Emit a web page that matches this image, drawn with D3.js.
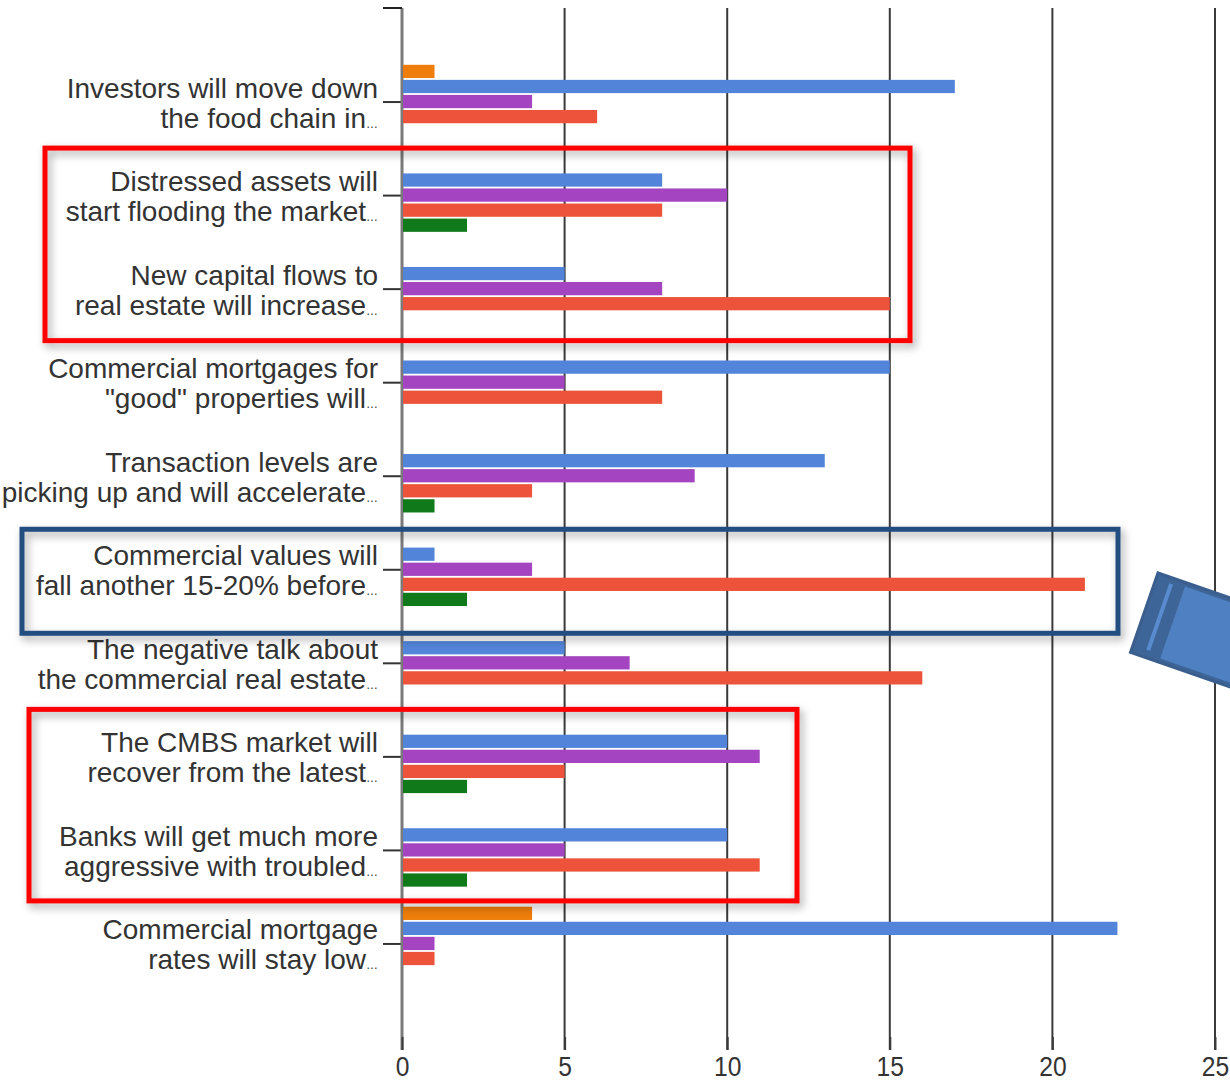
<!DOCTYPE html>
<html><head><meta charset="utf-8">
<script src="https://cdn.jsdelivr.net/npm/d3@7"></script>
<style>body{margin:0;background:#fff} svg{display:block}</style>
</head><body><svg id="c" width="1230" height="1081"></svg>
<script>
// ---- data ----
const categories = [
  "Investors will move down\nthe food chain in",
  "Distressed assets will\nstart flooding the market",
  "New capital flows to\nreal estate will increase",
  "Commercial mortgages for\n\"good\" properties will",
  "Transaction levels are\npicking up and will accelerate",
  "Commercial values will\nfall another 15-20% before",
  "The negative talk about\nthe commercial real estate",
  "The CMBS market will\nrecover from the latest",
  "Banks will get much more\naggressive with troubled",
  "Commercial mortgage\nrates will stay low"
];
const seriesNames = ["orange", "blue", "purple", "red", "green"];
const orangeValues = [1, 0, 0, 0, 0, 0, 0, 0, 0, 4];
const blueValues   = [17, 8, 5, 15, 13, 1, 5, 10, 10, 22];
const purpleValues = [4, 10, 8, 5, 9, 4, 7, 11, 5, 1];
const redValues    = [6, 8, 15, 8, 4, 21, 16, 5, 11, 1];
const greenValues  = [0, 2, 0, 0, 1, 2, 0, 2, 2, 0];
const xTickValues  = [0, 5, 10, 15, 20, 25];
const seriesColors = ["#ee7d0b", "#5284d9", "#a544c1", "#ec533a", "#10791a"];

const seriesValues = [orangeValues, blueValues, purpleValues, redValues, greenValues];

// ---- layout ----
const svg = d3.select("#c");
const plotTop = 8, plotBottom = 1037, plotLeft = 402;
const x = d3.scaleLinear().domain([0, 25]).range([plotLeft, 1215]);
const y = d3.scalePoint().domain(categories).range([plotTop, plotBottom]).padding(1);
const inner = d3.scaleBand().domain(seriesNames).range([-37.5, 37.5]).paddingInner(0.12).paddingOuter(0.05);

const defs = svg.append("defs");
const sh = defs.append("filter").attr("id", "shadow").attr("x", "-10%").attr("y", "-10%").attr("width", "120%").attr("height", "130%");
sh.append("feDropShadow").attr("dx", 3).attr("dy", 4).attr("stdDeviation", 4).attr("flood-color", "#000").attr("flood-opacity", 0.35);
const blur = defs.append("filter").attr("id", "soft");
blur.append("feGaussianBlur").attr("stdDeviation", 0.6);

// gridlines
svg.append("g").selectAll("line").data(xTickValues.filter(d => d > 0)).join("line")
  .attr("x1", d => x(d)).attr("x2", d => x(d))
  .attr("y1", plotTop).attr("y2", plotBottom + 13)
  .attr("stroke", "#3a3a3a").attr("stroke-width", 2);

// left axis with category ticks
const yAxis = d3.axisLeft(y).tickSize(19).tickFormat("").tickSizeOuter(0);
const gy = svg.append("g").attr("transform", `translate(${plotLeft},0)`).call(yAxis);
gy.select(".domain").remove();
gy.selectAll(".tick line").attr("stroke", "#333").attr("stroke-width", 2);
svg.append("line").attr("x1", plotLeft).attr("x2", plotLeft).attr("y1", plotTop).attr("y2", plotBottom + 13)
  .attr("stroke", "#7a7a7a").attr("stroke-width", 3);
svg.append("line").attr("x1", plotLeft - 19).attr("x2", plotLeft).attr("y1", plotTop).attr("y2", plotTop)
  .attr("stroke", "#222").attr("stroke-width", 2);

// bottom axis
const xAxis = d3.axisBottom(x).tickValues(xTickValues).tickSize(13).tickSizeOuter(0).tickFormat(d3.format("d"));
const gx = svg.append("g").attr("transform", `translate(0,${plotBottom})`).call(xAxis);
gx.select(".domain").remove();
gx.selectAll(".tick line").attr("stroke", "#3a3a3a").attr("stroke-width", 2);
gx.selectAll(".tick text").attr("y", 39).attr("dy", 0)
  .attr("font-family", "'Liberation Sans', Arial, sans-serif").attr("font-size", 28)
  .attr("fill", "#333").attr("transform", "scale(0.88,1)");
svg.append("line").attr("x1", 383).attr("x2", 1230).attr("y1", plotBottom).attr("y2", plotBottom)
  .attr("stroke", "#808080").attr("stroke-width", 4).attr("filter", "url(#soft)");

// bars
const groups = svg.append("g").selectAll("g").data(categories).join("g")
  .attr("transform", d => `translate(0,${y(d)})`);
groups.selectAll("rect").data((d, i) => seriesNames.map((s, j) => ({ s, v: seriesValues[j][i], c: seriesColors[j] })))
  .join("rect")
  .attr("x", x(0) + 1)
  .attr("y", d => inner(d.s))
  .attr("width", d => Math.max(0, x(d.v) - x(0) - 1))
  .attr("height", inner.bandwidth())
  .attr("fill", d => d.c)
  .style("display", d => d.v > 0 ? null : "none");

// category labels
const labels = svg.append("g").attr("font-family", "'Liberation Sans', Arial, sans-serif")
  .attr("font-size", 28).attr("fill", "#333").attr("text-anchor", "end");
categories.forEach(c => {
  const lines = c.split("\n");
  labels.append("text").attr("x", 378).attr("y", y(c) - 4).text(lines[0]);
  const t2 = labels.append("text").attr("x", 378).attr("y", y(c) + 26);
  t2.append("tspan").text(lines[1]);
  t2.append("tspan").attr("font-size", 12).text("…");
});

// annotation boxes
const boxes = [
  { x0: 45, x1: 910, c0: 1, c1: 2, up: 47, down: 52, color: "#ff0000" },
  { x0: 22, x1: 1118, c0: 5, c1: 5, up: 40, down: 64, color: "#234d80" },
  { x0: 29, x1: 797, c0: 7, c1: 8, up: 47, down: 51, color: "#ff0000" }
];
svg.append("g").selectAll("rect").data(boxes).join("rect")
  .attr("x", d => d.x0).attr("width", d => d.x1 - d.x0)
  .attr("y", d => y(categories[d.c0]) - d.up)
  .attr("height", d => y(categories[d.c1]) + d.down - (y(categories[d.c0]) - d.up))
  .attr("fill", "none").attr("stroke", d => d.color).attr("stroke-width", 5)
  .attr("filter", "url(#shadow)");

// blue arrow shape at right edge
const arrow = svg.append("g").attr("transform", "translate(1158,573) rotate(19.1)");
arrow.append("rect").attr("x", 0).attr("y", 0).attr("width", 220).attr("height", 84)
  .attr("fill", "#3e6597").attr("stroke", "#3a5e8e").attr("stroke-width", 3);
arrow.append("rect").attr("x", 30).attr("y", 4).attr("width", 200).attr("height", 76)
  .attr("fill", "#4f80c2");
arrow.append("line").attr("x1", 16).attr("x2", 16).attr("y1", 6).attr("y2", 76)
  .attr("stroke", "#5a8bd0").attr("stroke-width", 4);
</script></body></html>
